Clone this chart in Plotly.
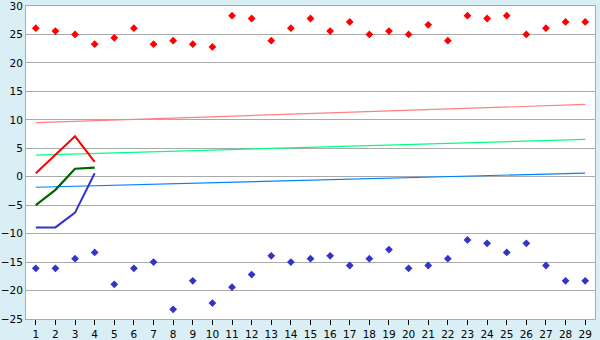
import plotly.graph_objects as go

days = list(range(1, 30))
max_temp = [26.1, 25.6, 25.0, 23.3, 24.4, 26.1, 23.3, 23.9, 23.3, 22.8,
            28.3, 27.8, 23.9, 26.1, 27.8, 25.6, 27.2, 25.0, 25.6, 25.0,
            26.7, 23.9, 28.3, 27.8, 28.3, 25.0, 26.1, 27.2, 27.2]
min_temp = [-16.1, -16.1, -14.4, -13.3, -18.9, -16.1, -15.0, -23.3, -18.3, -22.2,
            -19.4, -17.2, -13.9, -15.0, -14.4, -13.9, -15.6, -14.4, -12.8, -16.1,
            -15.6, -14.4, -11.1, -11.7, -13.3, -11.7, -15.6, -18.3, -18.3]
trend_x = [1, 29]
trend_max = [9.5, 12.7]
trend_mean = [3.8, 6.55]
trend_min = [-1.85, 0.65]
short_x = [1, 2, 3, 4]
short_max = [0.6, 3.85, 7.1, 2.6]
short_mean = [-5.0, -2.3, 1.4, 1.6]
short_min = [-8.9, -8.9, -6.3, 0.6]
y_ticks = list(range(-25, 31, 5))

fig = go.Figure()
fig.add_trace(go.Scatter(x=trend_x, y=trend_max, mode="lines", line=dict(color="#ff8080", width=1.2)))
fig.add_trace(go.Scatter(x=trend_x, y=trend_mean, mode="lines", line=dict(color="#00ff80", width=1.2)))
fig.add_trace(go.Scatter(x=trend_x, y=trend_min, mode="lines", line=dict(color="#0080ff", width=1.2)))
fig.add_trace(go.Scatter(x=short_x, y=short_max, mode="lines", line=dict(color="#ff0000", width=2)))
fig.add_trace(go.Scatter(x=short_x, y=short_mean, mode="lines", line=dict(color="#006400", width=2.2)))
fig.add_trace(go.Scatter(x=short_x, y=short_min, mode="lines", line=dict(color="#3333cc", width=2)))
fig.add_trace(go.Scatter(x=days, y=max_temp, mode="markers",
                         marker=dict(symbol="diamond", size=6, color="#ff0000")))
fig.add_trace(go.Scatter(x=days, y=min_temp, mode="markers",
                         marker=dict(symbol="diamond", size=6, color="#3333cc")))

fig.update_layout(
    width=600, height=340,
    margin=dict(l=26, r=5, t=6, b=21),
    paper_bgcolor="#daeff5",
    plot_bgcolor="#ffffff",
    showlegend=False,
    font=dict(family="DejaVu Sans", size=11, color="#000000"),
)
fig.update_xaxes(range=[0.5, 29.5], tickvals=days, ticks="outside", ticklen=5,
                 tickcolor="#000000", showgrid=False, zeroline=False,
                 showline=True, linecolor="#aaaaaa", linewidth=1, mirror=True,
                 fixedrange=True, automargin=False, ticklabeloverflow="allow",
                 ticklabelstandoff=0, tickfont=dict(size=10.5))
fig.update_yaxes(range=[-25, 30], tickvals=y_ticks, showgrid=True, gridcolor="#aaaaaa",
                 gridwidth=1, zeroline=False, showline=True, linecolor="#aaaaaa",
                 linewidth=1, mirror=True, ticks="", fixedrange=True, automargin=False,
                 ticklabelstandoff=0, ticklabeloverflow="allow", tickfont=dict(size=10.5))

fig.write_html("out.html")
